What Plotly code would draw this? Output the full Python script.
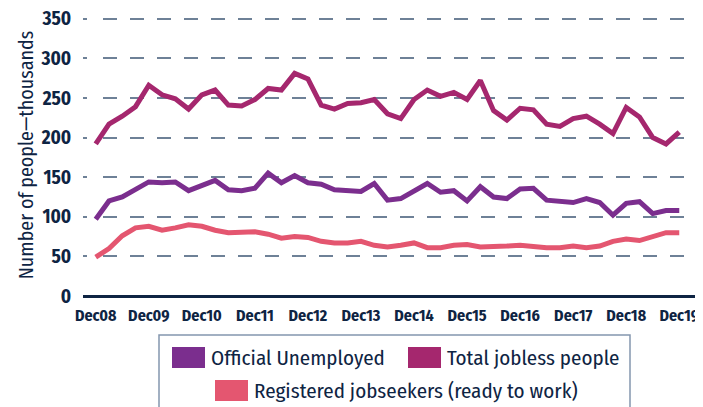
import plotly.graph_objects as go

# ---- data ----
years = ["08", "09", "10", "11", "12", "13", "14", "15", "16", "17", "18", "19"]
quarters = ["Mar", "Jun", "Sep", "Dec"]
categories = ["Dec08"] + [q + y for y in years[1:] for q in quarters]
tick_labels = ["Dec08", "Dec09", "Dec10", "Dec11", "Dec12", "Dec13",
               "Dec14", "Dec15", "Dec16", "Dec17", "Dec18", "Dec19"]

official_unemployed = [97, 120, 125, 135, 144, 143, 144, 133, 139, 146,
                       134, 133, 136, 155, 143, 152, 143, 141, 134, 133,
                       132, 142, 121, 123, 133, 142, 131, 133, 120, 138,
                       125, 123, 135, 136, 121, 120, 118, 123, 118, 102,
                       117, 119, 104, 108, 108]
total_jobless = [192, 217, 227, 239, 266, 254, 249, 236, 254, 260,
                 241, 240, 248, 262, 260, 281, 274, 241, 236, 243,
                 244, 248, 230, 224, 248, 260, 252, 257, 248, 272,
                 234, 222, 237, 235, 217, 214, 224, 227, 217, 205,
                 238, 226, 200, 192, 207]
registered_jobseekers = [49, 60, 76, 86, 88, 83, 86, 90, 88, 83,
                         80, 80, 81, 78, 73, 75, 74, 69, 67, 67,
                         69, 64, 62, 64, 67, 61, 61, 64, 65, 62,
                         62, 63, 64, 62, 61, 61, 63, 61, 63, 69,
                         72, 70, 75, 80, 80]

series_names = ["Official Unemployed", "Total jobless people",
                "Registered jobseekers (ready to work)"]
series_values = [official_unemployed, total_jobless, registered_jobseekers]
series_colors = ["#7B2E8E", "#A5276E", "#E45670"]

NAVY = "#0E2443"
FONT = "Fira Sans Condensed, Roboto Condensed, sans-serif"

# page body has an 8px default margin -> figure drawn at (8, 8)
OFF = 8
W, H = 703 - OFF, 407 - OFF
ML, MR, MT, MB = 83 - OFF, 0, 14 - OFF, 111

fig = go.Figure()
for name, vals, col in zip(series_names, series_values, series_colors):
    fig.add_trace(go.Scatter(x=categories, y=vals, mode="lines", name=name,
                             line=dict(color=col, width=5), showlegend=False))

# ---- manual legend (window pixel layout -> paper coords) ----
pw, ph = W - ML - MR, H - MT - MB
def px(xp):
    return (xp - OFF - ML) / pw
def py(yp):
    return (H - MB - (yp - OFF)) / ph

shapes = [dict(type="rect", xref="paper", yref="paper",
               x0=px(159), x1=px(630), y0=py(335), y1=py(420),
               line=dict(color="#8496AE", width=1.5), fillcolor="rgba(0,0,0,0)")]
legend_pos = [(172, 358), (408, 358), (215, 391)]
annotations = []
for (lx, ly), name, col in zip(legend_pos, series_names, series_colors):
    shapes.append(dict(type="rect", xref="paper", yref="paper",
                       x0=px(lx), x1=px(lx + 33), y0=py(ly - 11), y1=py(ly + 10),
                       line=dict(width=0), fillcolor=col))
    annotations.append(dict(xref="paper", yref="paper", x=px(lx + 37), y=py(ly),
                            xanchor="left", yanchor="middle", showarrow=False,
                            text=name, font=dict(family=FONT, size=21, color=NAVY)))

grid_dash = "4px,16px," + ",".join(["14px,13px"] * 23)

fig.update_layout(
    width=W, height=H,
    margin=dict(l=ML, r=MR, t=MT, b=MB, autoexpand=False),
    plot_bgcolor="white", paper_bgcolor="white",
    font=dict(family=FONT, color=NAVY),
    shapes=shapes, annotations=annotations,
    showlegend=False,
)
fig.update_xaxes(
    type="category", range=[-0.96, 45.79],
    tickvals=tick_labels, ticktext=tick_labels,
    tickfont=dict(family=FONT, size=16, color=NAVY, weight="bold"),
    showgrid=False, showline=False, zeroline=False,
    ticks="outside", ticklen=5, tickcolor="rgba(0,0,0,0)",
    ticklabeloverflow="allow",
)
fig.update_yaxes(
    range=[0, 356], tickvals=[0, 50, 100, 150, 200, 250, 300, 350],
    tickfont=dict(family=FONT, size=19, color=NAVY, weight="bold"),
    showgrid=True, gridcolor="#6E8197", gridwidth=2, griddash=grid_dash,
    zeroline=True, zerolinecolor=NAVY, zerolinewidth=3,
    ticks="outside", ticklen=7, tickcolor="rgba(0,0,0,0)",
    ticklabeloverflow="allow",
    title=dict(text="Number of people\u2014thousands",
               font=dict(family=FONT, size=20, color=NAVY), standoff=1),
)

fig.write_html("out.html")
